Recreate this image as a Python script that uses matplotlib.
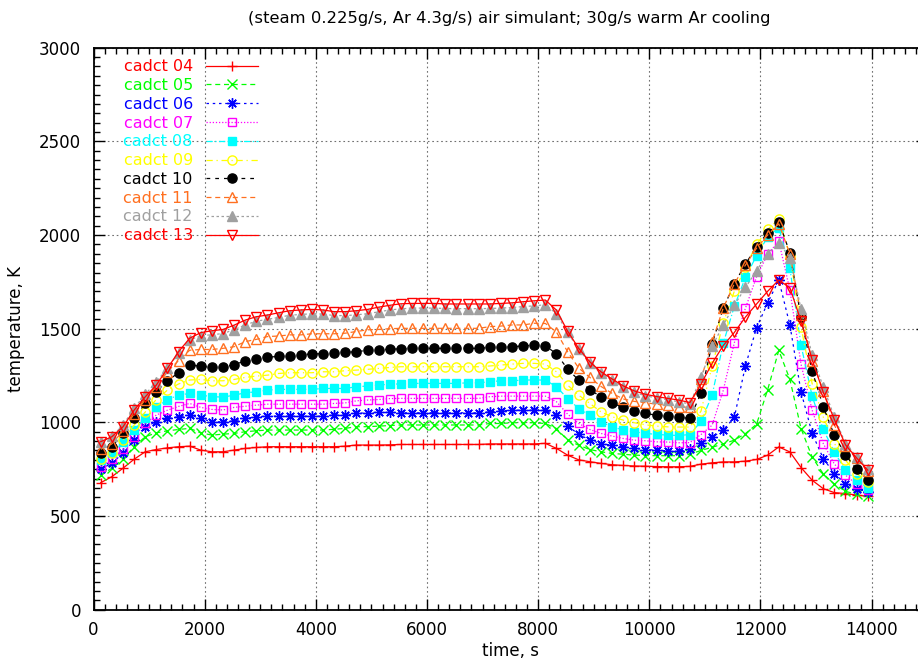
import numpy as np
import matplotlib
matplotlib.use("Agg")
import matplotlib.pyplot as plt
from matplotlib.ticker import MultipleLocator

# sample times, s (one reading every 200 s)
time_s = np.arange(130, 14000, 200)

cadct04 = [678, 710, 755, 803, 843, 855, 864, 870, 873,
           852, 843, 843, 852, 861, 866, 870, 870, 870, 870,
           870, 870, 870, 873, 879, 879, 879, 880, 882, 882, 882,
           882, 882, 882, 882, 882, 885, 885, 885, 885, 885,
           888, 861, 825, 800, 790, 781, 774, 770, 767, 766,
           764, 763, 763, 765, 777, 784, 789, 789, 793, 802,
           825, 869, 842, 759, 691, 646, 625, 620, 612, 605]
cadct05 = [718, 755, 803, 870, 923, 944, 955, 962, 968,
           944, 932, 937, 941, 950, 955, 959, 959, 959, 959,
           959, 959, 963, 968, 977, 977, 980, 983, 986, 986, 986,
           986, 986, 986, 986, 986, 994, 994, 998, 998, 998,
           994, 967, 905, 878, 855, 843, 834, 830, 825, 823,
           822, 822, 822, 830, 850, 867, 885, 905, 940, 990,
           1175, 1384, 1229, 967, 815, 725, 670, 632, 615, 605]
cadct06 = [750, 782, 835, 905, 976, 1003, 1021, 1030, 1039,
           1021, 1003, 1003, 1008, 1021, 1030, 1033, 1033, 1033, 1033,
           1033, 1033, 1039, 1039, 1048, 1051, 1054, 1053, 1051, 1051, 1051,
           1051, 1051, 1051, 1051, 1051, 1056, 1062, 1065, 1065, 1065,
           1065, 1039, 980, 937, 905, 887, 878, 870, 861, 855,
           852, 848, 845, 857, 888, 920, 959, 1027, 1302, 1505,
           1638, 1760, 1519, 1163, 941, 807, 727, 673, 646, 628]
cadct07 = [763, 803, 856, 923, 994, 1039, 1065, 1085, 1101,
           1080, 1069, 1066, 1080, 1086, 1092, 1097, 1097, 1097, 1097,
           1097, 1097, 1101, 1104, 1115, 1119, 1122, 1127, 1128, 1128, 1128,
           1128, 1128, 1128, 1128, 1128, 1137, 1140, 1140, 1140, 1140,
           1140, 1110, 1044, 994, 962, 941, 927, 914, 905, 902,
           896, 895, 891, 892, 935, 985, 1170, 1425, 1610, 1777,
           1898, 1967, 1706, 1310, 1065, 887, 777, 718, 670, 638]
cadct08 = [800, 835, 895, 960, 1021, 1083, 1122, 1145, 1155,
           1146, 1137, 1135, 1145, 1158, 1163, 1172, 1176, 1176, 1176,
           1176, 1181, 1181, 1181, 1190, 1194, 1199, 1204, 1205, 1208, 1208,
           1208, 1208, 1208, 1211, 1211, 1217, 1222, 1222, 1226, 1226,
           1226, 1190, 1127, 1074, 1039, 1003, 976, 959, 950, 941,
           936, 932, 930, 935, 1005, 1145, 1421, 1620, 1774, 1890,
           1990, 2040, 1822, 1412, 1140, 962, 842, 744, 691, 650]
cadct09 = [805, 838, 905, 985, 1055, 1122, 1172, 1205, 1226,
           1229, 1222, 1222, 1229, 1240, 1247, 1252, 1261, 1265, 1265,
           1265, 1270, 1270, 1276, 1279, 1283, 1288, 1293, 1297, 1297, 1297,
           1297, 1297, 1297, 1297, 1297, 1301, 1306, 1311, 1315, 1315,
           1311, 1270, 1199, 1145, 1101, 1056, 1030, 1012, 998, 987,
           980, 976, 975, 975, 1060, 1300, 1530, 1700, 1830, 1950,
           2030, 2085, 1890, 1510, 1207, 1029, 887, 798, 727, 683]
cadct10 = [835, 870, 941, 1021, 1101, 1163, 1222, 1265, 1306,
           1300, 1293, 1295, 1308, 1328, 1337, 1348, 1352, 1355, 1360,
           1366, 1366, 1369, 1373, 1378, 1384, 1387, 1390, 1393, 1395, 1395,
           1395, 1395, 1395, 1395, 1395, 1400, 1402, 1404, 1408, 1413,
           1410, 1365, 1285, 1225, 1175, 1136, 1103, 1080, 1062, 1048,
           1038, 1032, 1026, 1022, 1155, 1420, 1608, 1741, 1845, 1938,
           2012, 2071, 1905, 1560, 1275, 1083, 931, 826, 749, 695]
cadct11 = [856, 885, 955, 1045, 1120, 1190, 1270, 1330, 1385,
           1389, 1389, 1395, 1404, 1431, 1443, 1458, 1461, 1467, 1467,
           1473, 1473, 1473, 1476, 1485, 1494, 1496, 1500, 1502, 1502, 1502,
           1502, 1502, 1502, 1502, 1502, 1511, 1514, 1520, 1520, 1529,
           1528, 1482, 1377, 1290, 1240, 1192, 1155, 1125, 1112, 1105,
           1097, 1091, 1083, 1080, 1230, 1430, 1610, 1740, 1840, 1930,
           2000, 2060, 1900, 1575, 1330, 1170, 985, 875, 808, 740]
cadct12 = [895, 925, 985, 1075, 1150, 1215, 1290, 1370, 1440,
           1462, 1468, 1474, 1495, 1520, 1540, 1550, 1560, 1572, 1576,
           1580, 1578, 1570, 1570, 1574, 1580, 1590, 1600, 1606, 1610, 1610,
           1610, 1608, 1607, 1607, 1607, 1608, 1610, 1613, 1618, 1622,
           1628, 1580, 1480, 1390, 1318, 1262, 1225, 1188, 1160, 1142,
           1130, 1120, 1110, 1098, 1240, 1405, 1520, 1625, 1720, 1810,
           1900, 1956, 1880, 1605, 1359, 1189, 1029, 887, 816, 750]
cadct13 = [897, 923, 976, 1065, 1136, 1199, 1288, 1377, 1449,
           1479, 1489, 1496, 1519, 1546, 1564, 1573, 1585, 1596, 1600,
           1603, 1600, 1591, 1591, 1596, 1603, 1615, 1625, 1633, 1635, 1635,
           1635, 1632, 1632, 1632, 1632, 1632, 1635, 1638, 1644, 1649,
           1653, 1599, 1487, 1395, 1323, 1270, 1232, 1195, 1168, 1150,
           1138, 1128, 1119, 1106, 1204, 1315, 1410, 1480, 1562, 1632,
           1700, 1760, 1718, 1540, 1335, 1160, 1015, 880, 810, 745]

labels = ["cadct 04", "cadct 05", "cadct 06", "cadct 07", "cadct 08",
          "cadct 09", "cadct 10", "cadct 11", "cadct 12", "cadct 13"]
series = [cadct04, cadct05, cadct06, cadct07, cadct08,
          cadct09, cadct10, cadct11, cadct12, cadct13]

colors = ["#ff0000", "#00ff00", "#0000ff", "#ff00ff", "#00ffff",
          "#ffff00", "#000000", "#ff7020", "#a0a0a0", "#ff0000"]
dashes = ["-", (0, (4, 3)), (0, (2, 3)), (0, (1, 1.5)), (0, (5, 2, 1, 2)),
          (0, (5, 3, 1, 3)), (0, (3, 4)), (0, (4, 3)), (0, (2, 2)), "-"]
markers = ["+", "x", (8, 2, 0), "s", "s", "o", "o", "^", "^", "v"]
filled = [True, True, True, False, True, False, True, False, True, False]
msizes = [7.5, 6.5, 7.5, 6, 6, 6.6, 6.6, 6.8, 6.8, 6.8]

narrow = ["Liberation Sans Narrow", "DejaVu Sans Condensed", "DejaVu Sans"]

fig = plt.figure(figsize=(9.18, 6.69), dpi=100)
ax = fig.add_axes([93.5 / 918, 59.3 / 669, 833.7 / 918, 562.0 / 669])

for y, lab, c, ls, m, f, ms in zip(series, labels, colors, dashes,
                                    markers, filled, msizes):
    ax.plot(time_s, y, color=c, linestyle=ls, linewidth=0.9,
            marker=m, markersize=ms, markeredgewidth=1.0,
            markerfacecolor=c if f else "none", markeredgecolor=c,
            label=lab)

ax.set_xlim(0, 15000)
ax.set_ylim(0, 3000)
ax.xaxis.set_major_locator(MultipleLocator(2000))
ax.xaxis.set_minor_locator(MultipleLocator(200))
ax.yaxis.set_major_locator(MultipleLocator(500))
ax.yaxis.set_minor_locator(MultipleLocator(50))
ax.tick_params(which="both", direction="in", top=True, right=True,
               width=1.0, colors="black")
ax.tick_params(which="major", length=8)
ax.tick_params(which="minor", length=4)
ax.tick_params(axis="x", pad=8)
ax.tick_params(axis="y", pad=9)
for lab in ax.get_xticklabels() + ax.get_yticklabels():
    lab.set_family(narrow)
    lab.set_fontsize(12)
for sp in ax.spines.values():
    sp.set_linewidth(1.3)

ax.grid(which="major", color="#707070", linestyle=(0, (1.5, 2.5)),
        linewidth=0.8)
ax.set_axisbelow(True)

ax.set_xlabel("time, s", family=narrow, fontsize=12, labelpad=2)
ax.set_ylabel("temperature, K", family=narrow, fontsize=12, labelpad=10)
fig.text(0.555, 1 - 18 / 669, "(steam 0.225g/s, Ar 4.3g/s) air simulant; "
         "30g/s warm Ar cooling", ha="center", va="center",
         fontsize=11.8, family="DejaVu Sans")

leg = ax.legend(loc="upper left", bbox_to_anchor=(0.032, 0.985),
                markerfirst=False, frameon=False, numpoints=1,
                handlelength=3.3, handletextpad=0.8, labelspacing=0.235,
                prop={"family": "DejaVu Sans", "size": 11.5},
                borderpad=0.2, borderaxespad=0.0)
for txt, c in zip(leg.get_texts(), colors):
    txt.set_color(c)

fig.savefig("out.png", dpi=100)
